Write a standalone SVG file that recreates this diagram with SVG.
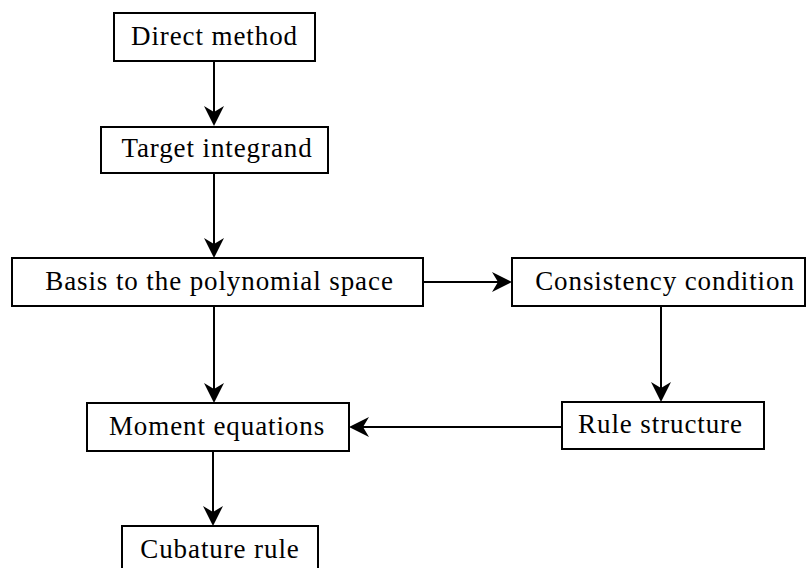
<svg xmlns="http://www.w3.org/2000/svg" width="806" height="568" viewBox="0 0 806 568">
  <defs>
    <!-- stealth-style arrowhead, tip at the path end -->
    <marker id="head" viewBox="-20 -10 20 20" refX="-4" refY="0" markerWidth="20" markerHeight="20" markerUnits="userSpaceOnUse" orient="auto">
      <path d="M0,0 L-20,-10 L-14,0 L-20,10 Z" fill="#000000"/>
    </marker>
  </defs>

  <g id="connectors" fill="none" stroke="#000000" stroke-width="2" marker-end="url(#head)">
    <line x1="214" y1="61" x2="214" y2="122" marker-end="url(#head)"/>
    <line x1="214" y1="173" x2="214" y2="254" marker-end="url(#head)"/>
    <line x1="423" y1="282" x2="508" y2="282" marker-end="url(#head)"/>
    <line x1="661" y1="306" x2="661" y2="398" marker-end="url(#head)"/>
    <line x1="562" y1="427" x2="353" y2="427" marker-end="url(#head)"/>
    <line x1="214" y1="306" x2="214" y2="399" marker-end="url(#head)"/>
    <line x1="213" y1="451" x2="213" y2="522" marker-end="url(#head)"/>
  </g>

  <g fill="#ffffff" stroke="#000000" stroke-width="2">
    <g id="direct-method"><rect x="114" y="13" width="201" height="48"/></g>
    <g id="target-integrand"><rect x="101" y="127" width="227" height="46"/></g>
    <g id="basis"><rect x="12" y="258" width="411" height="48"/></g>
    <g id="consistency"><rect x="512" y="258" width="293" height="48"/></g>
    <g id="rule-structure"><rect x="562" y="402" width="202" height="47"/></g>
    <g id="moment-equations"><rect x="87" y="403" width="262" height="48"/></g>
    <g id="cubature-rule"><rect x="122" y="526" width="196" height="48"/></g>
  </g>

  <text x="214.5" y="45" fill="#000000" text-anchor="middle" style="font-family: 'Liberation Serif', serif; font-size: 27px; letter-spacing: 0.9px">Direct method</text>
  <text x="217" y="157" fill="#000000" text-anchor="middle" style="font-family: 'Liberation Serif', serif; font-size: 27px; letter-spacing: 0.9px">Target integrand</text>
  <text x="219.5" y="290" fill="#000000" text-anchor="middle" style="font-family: 'Liberation Serif', serif; font-size: 27px; letter-spacing: 0.9px">Basis to the polynomial space</text>
  <text x="665" y="290" fill="#000000" text-anchor="middle" style="font-family: 'Liberation Serif', serif; font-size: 27px; letter-spacing: 0.9px">Consistency condition</text>
  <text x="660.5" y="433" fill="#000000" text-anchor="middle" style="font-family: 'Liberation Serif', serif; font-size: 27px; letter-spacing: 0.9px">Rule structure</text>
  <text x="217" y="435" fill="#000000" text-anchor="middle" style="font-family: 'Liberation Serif', serif; font-size: 27px; letter-spacing: 0.9px">Moment equations</text>
  <text x="220" y="558" fill="#000000" text-anchor="middle" style="font-family: 'Liberation Serif', serif; font-size: 27px; letter-spacing: 0.9px">Cubature rule</text>
</svg>
